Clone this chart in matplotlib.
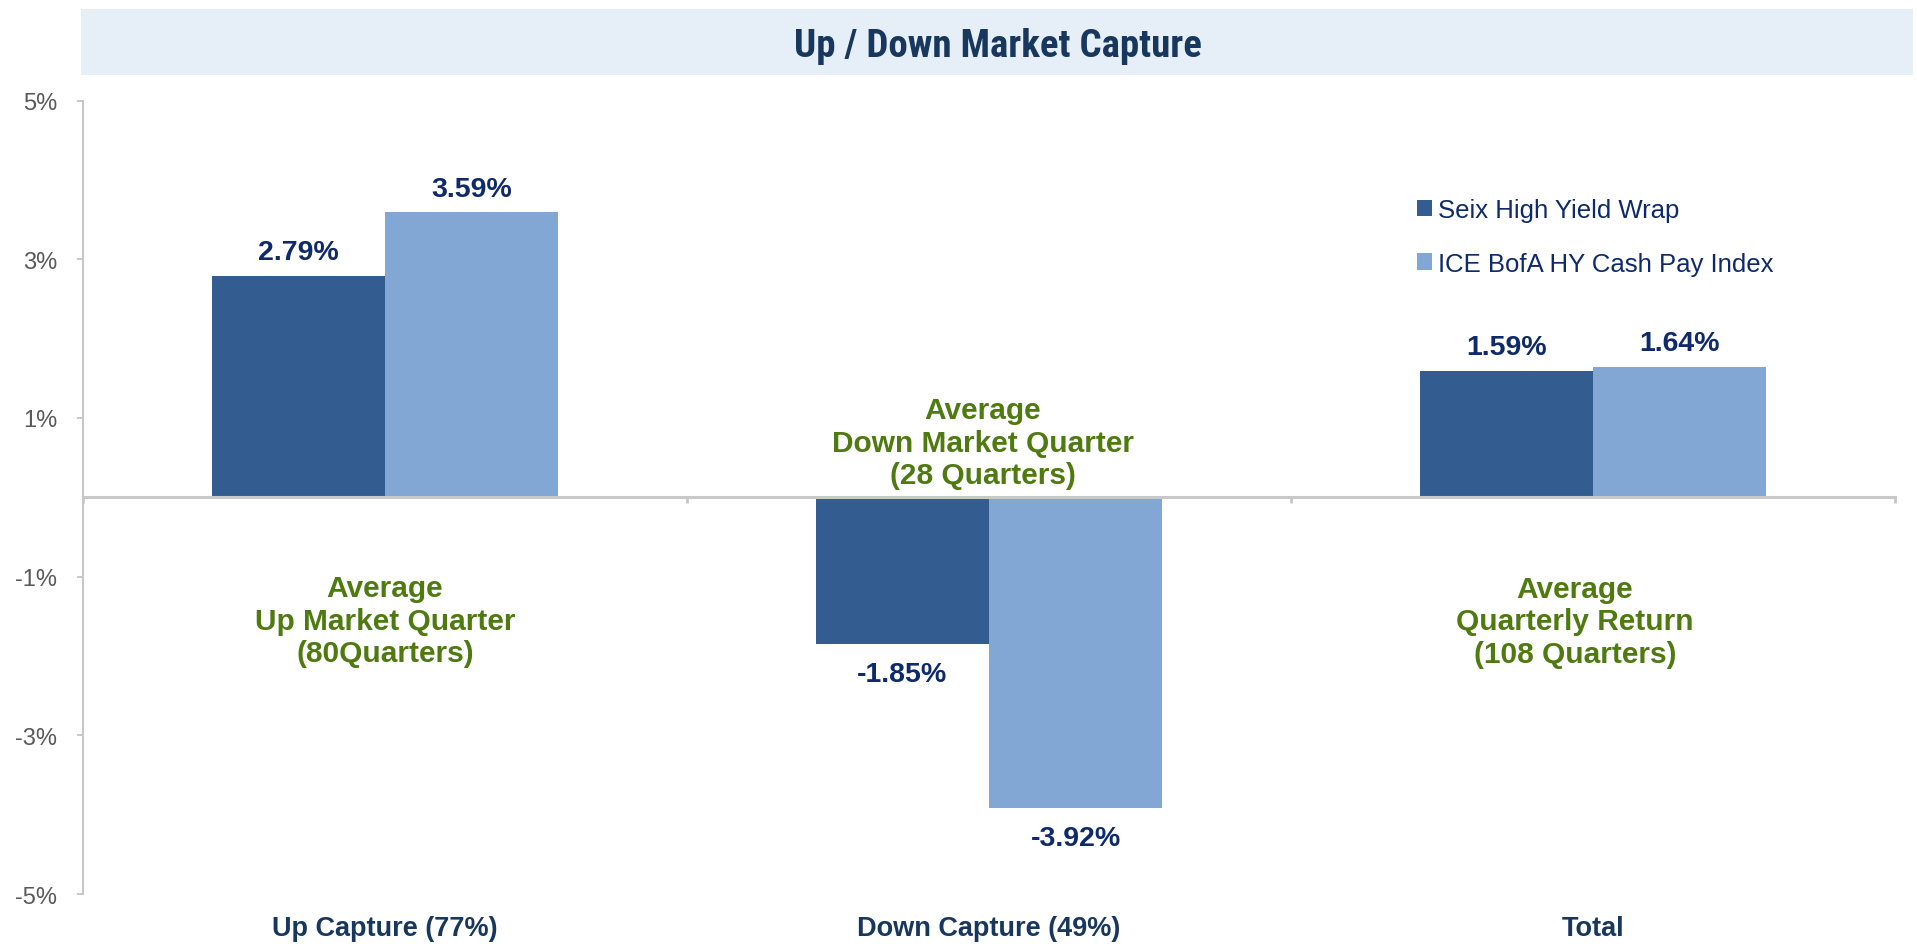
"""
Up / Down market capture bar chart
"""

import matplotlib.pyplot as plt
import numpy as np
from matplotlib.patches import Rectangle

# data
categories = ["Up Capture (77%)", "Down Capture (49%)", "Total"]
series_names = ["Seix High Yield Wrap", "ICE BofA HY Cash Pay Index"]
seix = [2.79, -1.85, 1.59]
ice = [3.59, -3.92, 1.64]
notes = ["Average\nUp Market Quarter\n(80Quarters)",
         "Average\nDown Market Quarter\n(28 Quarters)",
         "Average\nQuarterly Return\n(108 Quarters)"]
yticks = [-5, -3, -1, 1, 3, 5]

# colours
dark = "#335D90"
light = "#82A7D4"
navy = "#0E2A6B"
green = "#4E7A10"
grey = "#C8C8C8"

plt.rcParams['font.family'] = ['Liberation Sans', 'DejaVu Sans']

W, H = 1917, 945
fig = plt.figure(figsize=(W / 100, H / 100), dpi=100)

# title band
fig.patches.append(Rectangle((81 / W, 1 - 76 / H), (1913 - 81) / W, 66 / H,
                             transform=fig.transFigure, facecolor="#E6EFF8",
                             edgecolor="none", zorder=0))
fig.text(998 / W, 1 - 57 / H, "Up / Down Market Capture", ha="center", va="baseline",
         fontsize=28, fontweight="bold", color="#17375E",
         family=['Liberation Sans Narrow', 'Roboto Condensed', 'Open Sans Condensed',
                 'Liberation Sans'])

ax = fig.add_axes([83 / W, 50 / H, (1895 - 83) / W, (895 - 101.5) / H])

x = np.arange(len(categories))
bw = 0.2865
b1 = ax.bar(x - bw / 2, seix, bw, color=dark, label=series_names[0], zorder=2)
b2 = ax.bar(x + bw / 2, ice, bw, color=light, label=series_names[1], zorder=2)

# value labels
for bars, vals in ((b1, seix), (b2, ice)):
    for rect, v in zip(bars, vals):
        cx = rect.get_x() + rect.get_width() / 2
        if v >= 0:
            ax.annotate(f"{v:.2f}%", (cx, v), xytext=(0, 12), textcoords="offset points",
                        ha="center", va="baseline", fontsize=20.5, fontweight="bold", color=navy)
        else:
            ax.annotate(f"{v:.2f}%", (cx, v), xytext=(0, -12), textcoords="offset points",
                        ha="center", va="top", fontsize=20.5, fontweight="bold", color=navy)

# green notes
note_x = [0.0, 0.99, 1.97]
note_y = [-0.97, 1.27, -0.98]
for nx, ny, t in zip(note_x, note_y, notes):
    ax.text(nx, ny, t, ha="center", va="top", fontsize=21.5, fontweight="bold",
            color=green, linespacing=1.2, multialignment="center")

# category labels along the bottom
for xi, c in zip(x, categories):
    ax.text(xi, -0.0517, c, transform=ax.get_xaxis_transform(), ha="center",
            va="baseline", fontsize=19.5, fontweight="bold", color="#17375E")

# axes styling
ax.set_xlim(-0.5, 2.5)
ax.set_ylim(-5, 5)
ax.set_yticks(yticks)
ax.set_yticklabels([f"{t}%" for t in yticks])
ax.set_xticks([-0.5, 0.5, 1.5, 2.5])
ax.set_xticklabels([])
ax.tick_params(axis="y", direction="out", length=4.5, width=1.4, color=grey,
               labelsize=17, labelcolor="#595959", pad=14)
ax.tick_params(axis="x", direction="out", length=4.5, width=2, color=grey)
for s in ("top", "right"):
    ax.spines[s].set_visible(False)
ax.spines["bottom"].set_position(("data", 0))
ax.spines["bottom"].set_color(grey)
ax.spines["bottom"].set_linewidth(2.2)
ax.spines["left"].set_color(grey)
ax.spines["left"].set_linewidth(1.5)
ax.patch.set_visible(False)

# legend
ax.legend(loc="upper left", bbox_to_anchor=(1417 / W, 1 - 199 / H),
          bbox_transform=fig.transFigure, frameon=False, fontsize=18.5,
          handlelength=0.6, handleheight=0.6, handletextpad=0.2,
          labelspacing=1.15, borderpad=0, borderaxespad=0, labelcolor=navy)

fig.savefig("out.png", dpi=100)
